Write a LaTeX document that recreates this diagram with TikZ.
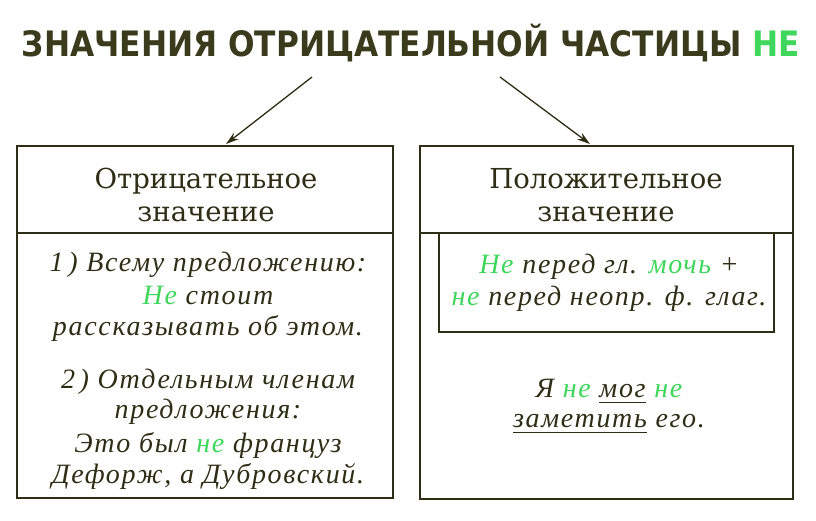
\documentclass[tikz,border=0pt]{standalone}
\usepackage{fontspec}
\setmainfont{DejaVu Serif}
\newfontfamily\titlefam{DejaVu Sans}
\newfontfamily\bodyfam{Liberation Serif}[LetterSpace=6]
\usetikzlibrary{arrows.meta}
\definecolor{ink}{HTML}{2E2E16}
\definecolor{titleink}{HTML}{3A3A1C}
\definecolor{grn}{HTML}{3FD65C}
\newsavebox\ulbox
\newcommand\myul[1]{\sbox\ulbox{#1}\rlap{\rule[-6pt]{\wd\ulbox}{1.3pt}}\usebox\ulbox}
\newcommand\gr[1]{\textcolor{grn}{#1}}
\begin{document}
\begin{tikzpicture}[x=1pt,y=-1pt,
  frame/.style={draw=ink, line width=1.6pt, inner sep=0pt, outer sep=0pt},
  rule/.style={draw=ink, line width=1.6pt},
  head/.style={font=\fontsize{27.5pt}{32pt}\selectfont, text=ink, anchor=base, inner sep=0pt},
  body/.style={font=\bodyfam\fontsize{28pt}{32pt}\selectfont\itshape, text=ink, anchor=base, inner sep=0pt},
  arr/.style={draw=ink, line width=1.3pt, -{Stealth[length=13pt,width=8pt]}}]
\useasboundingbox[fill=white] (0,0) rectangle (816,521);
% title
\node[anchor=base, inner sep=0pt, text=titleink] (title) at (411,57)
  {\resizebox{778pt}{\height}{\titlefam\fontsize{35pt}{38pt}\selectfont\bfseries ЗНАЧЕНИЯ ОТРИЦАТЕЛЬНОЙ ЧАСТИЦЫ \textcolor{grn}{НЕ}}};
% boxes
\node[frame, anchor=north west, minimum width=376pt, minimum height=352pt] (L) at (17,146) {};
\node[frame, anchor=north west, minimum width=373pt, minimum height=353pt] (R) at (420,146) {};
\coordinate (Ldiv) at (17,233);
\coordinate (Rdiv) at (420,233);
\draw[rule] (Ldiv) -- (Ldiv -| L.east);
\draw[rule] (Rdiv) -- (Rdiv -| R.east);
\node[frame, anchor=north west, minimum width=335pt, minimum height=99pt] (Ri) at (439,233) {};
% arrows
\coordinate (a1) at (312,77);
\coordinate (a2) at (500,77);
\coordinate (t1) at (226,144);
\coordinate (t2) at (590,144);
\draw[arr] (a1) -- (t1);
\draw[arr] (a2) -- (t2);
% headers
\node[head] (lh1) at (206,189) {Отрицательное};
\node[head] (lh2) at (206,222) {значение};
\node[head] (rh1) at (606,189) {Положительное};
\node[head] (rh2) at (606,222) {значение};
% left body
\node[body] (l1) at (208,272) {1\,) Всему предложению:};
\node[body] (l2) at (208,304) {\gr{Не} стоит};
\node[body] (l3) at (208,335) {рассказывать об этом.};
\node[body] (l4) at (208,388) {2\,) Отдельным членам};
\node[body] (l5) at (208,418) {предложения:};
\node[body] (l6) at (208,452) {Это был \gr{не} француз};
\node[body] (l7) at (208,483) {Дефорж, а Дубровский.};
% right body
\node[body] (r1) at (609,273) {\gr{Не} перед гл. \gr{мочь} +};
\node[body] (r2) at (609,305) {\gr{не} перед неопр. ф. глаг.};
\node[body] (r3) at (609,397) {Я \gr{не} \myul{мог} \gr{не}};
\node[body] (r4) at (609,427) {\myul{заметить} его.};
\end{tikzpicture}
\end{document}
